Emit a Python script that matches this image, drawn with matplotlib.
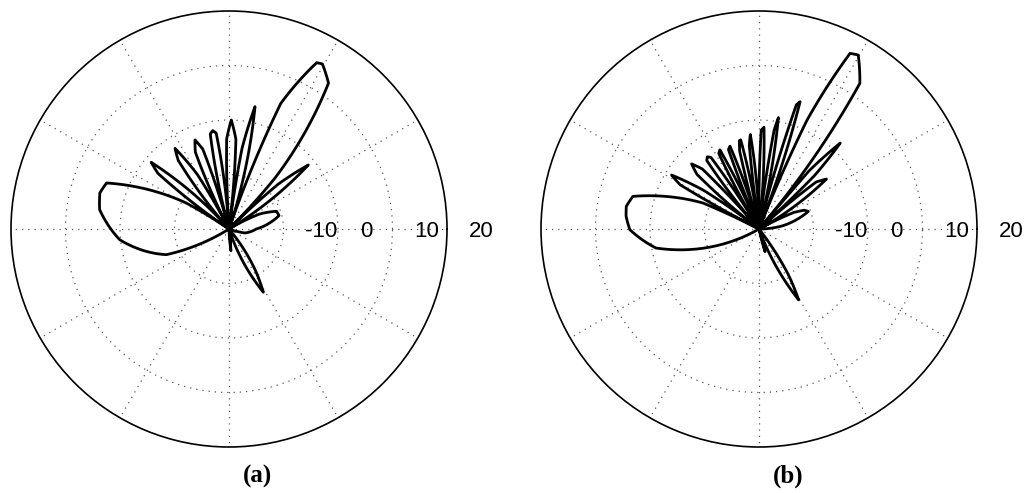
import numpy as np
import matplotlib
matplotlib.use("Agg")
import matplotlib.pyplot as plt

# pattern (a): angle in degrees, gain in dB (centre of the plot is -20 dB)
theta_a = [-90, -88, -85, -82, -72,
           -67.4, -65.9, -64.57, -63.63, -62.62, -61.5, -60.38, -59.37, -58.43, -57.1, -55.6, -50,
           -20, -14, 0, 5, 9.5, 15, 20.5, 24, 26, 28.5, 31,
           33.76, 35.44, 36.34, 37.16, 38.0, 38.9, 39.8, 40.64, 41.46, 42.36, 44.04, 45,
           47, 48, 49, 50, 52.4, 55.7, 58.7, 60.5, 62.2, 64.9, 66.8, 67.6, 68.1, 68.5, 68.8, 71,
           73.81, 75.18, 75.92, 76.58, 77.26, 78.0, 78.74, 79.42, 80.08, 80.82, 82.19, 82.6,
           84.0, 84.6, 85.6, 86.6, 87.7, 88.8, 89.9, 90.9, 91.5, 91.7, 92.0, 93.8,
           94.15, 95.86, 96.79, 97.62, 98.48, 99.4, 100.32, 101.18, 102.01, 102.94, 104.65, 105,
           105.41, 107.2, 108.17, 109.04, 109.93, 110.9, 111.87, 112.76, 113.63, 114.6, 116.39, 117.3,
           118.4, 120.16, 121.12, 121.97, 122.85, 123.8, 124.75, 125.63, 126.48, 127.44, 129.2, 131.5,
           134.3, 135.96, 136.86, 137.67, 138.5, 139.4, 140.3, 141.13, 141.94, 142.84, 144.5, 146,
           148.7, 152.7, 156.4, 159.4, 164.4, 171.5, 178.7, 185.6, 196.2, 202.3, 205.8, 209.4, 212, 270]
gain_a = [-20, -20, -16.0, -20, -20,
          -15.38, -11.42, -8.38, -7.2, -6.87, -6.8, -6.87, -7.2, -8.38, -11.42, -15.38, -20,
          -20, -17.0, -15.0, -13.1, -11.5, -10.5, -10.7, -11.8, -13.7, -16.4, -20,
          -13.45, -7.85, -3.54, -1.86, -1.39, -1.3, -1.39, -1.86, -3.54, -7.85, -13.45, -20,
          -12, -7.2, -1.4, 3.9, 8.3, 12.4, 14.5, 14.8, 14.5, 12.2, 9.0, 4.9, 0.2, -4.4, -9.6, -20,
          -11.97, -5.08, 0.2, 2.26, 2.84, 2.95, 2.84, 2.26, 0.2, -5.08, -11.97, -20,
          -13.0, -7.9, -3.5, -1.2, -0.2, 0.0, -0.3, -1.3, -3.5, -8.0, -13.0, -20,
          -13.6, -8.1, -3.9, -2.25, -1.79, -1.7, -1.79, -2.25, -3.9, -8.1, -13.6, -20,
          -13.88, -8.63, -4.6, -3.03, -2.59, -2.5, -2.59, -3.03, -4.6, -8.63, -13.88, -20,
          -13.77, -8.43, -4.34, -2.73, -2.29, -2.2, -2.29, -2.73, -4.34, -8.43, -13.77, -20,
          -13.42, -7.78, -3.46, -1.76, -1.29, -1.2, -1.29, -1.76, -3.46, -7.78, -13.42, -20,
          -10.8, -3.6, 1.9, 4.0, 4.6, 4.0, 2.5, 0.15, -4.2, -7.6, -11.3, -16.6, -20, -20]

# pattern (b)
theta_b = [-90, -78, -75, -72, -70,
           -65.65, -64.5, -63.45, -62.7, -61.8, -60.8, -59.8, -58.9, -58.15, -57.1, -55.95, -52,
           0, 4, 7.4, 14.7, 17.5, 19.6, 22.5, 25.5, 28.5,
           31.43, 32.51, 33.55, 34.39, 35.4, 36.5, 37.6, 38.61, 39.45, 40.49, 41.57, 42,
           43.0, 43.92, 44.62, 45.2, 45.87, 46.6, 47.33, 48.0, 48.58, 49.28, 49.4, 49.6,
           50.2, 50.5, 51.3, 52.2, 55.3, 58.2, 60.3, 61.5, 62.6, 65.3, 66.2, 66.6, 68.5,
           69.28, 69.93, 70.49, 70.95, 71.5, 72.1, 72.7, 73.25, 73.71, 74.27, 74.92, 75.8,
           76.09, 76.84, 77.51, 78.05, 78.69, 79.4, 80.11, 80.75, 81.29, 81.96, 82.71, 83.3,
           83.9, 84.34, 85.09, 85.69, 86.41, 87.2, 87.99, 88.71, 89.31, 90.06, 90.5, 90.8,
           91.2, 91.35, 92.15, 92.79, 93.55, 94.4, 95.25, 96.01, 96.65, 97.45, 97.6, 98.0,
           98.3, 98.45, 99.24, 99.91, 100.71, 101.6, 102.49, 103.29, 103.96, 104.75, 104.9, 105.4,
           106.0, 106.1, 106.86, 107.55, 108.39, 109.3, 110.21, 111.05, 111.74, 112.5, 112.6, 112.8,
           112.9, 113.0, 113.86, 114.56, 115.39, 116.3, 117.21, 118.04, 118.74, 119.6, 119.9, 121.0,
           121.36, 122.33, 123.18, 123.87, 124.69, 125.6, 126.51, 127.33, 128.02, 128.87, 129.84, 130.8,
           131.46, 132.42, 133.36, 134.11, 135.02, 136.0, 136.98, 137.89, 138.64, 139.58, 140.54, 142.2,
           144.15, 145.04, 145.89, 146.57, 147.4, 148.3, 149.2, 150.03, 150.71, 151.56, 152.45, 153.0,
           154.0, 155.1, 157.6, 162.6, 165.5, 170.3, 174.5, 180.3, 185.1, 190.5, 195.2, 196.5, 204.5, 210, 270]
gain_b = [-20, -20, -15.7, -20, -20,
          -14.79, -10.32, -6.89, -5.55, -5.17, -5.1, -5.17, -5.55, -6.89, -10.32, -14.79, -20,
          -20, -16.6, -15.8, -13.3, -11.3, -10.4, -11.0, -13.0, -20,
          -14.61, -9.99, -6.45, -5.06, -4.68, -4.6, -4.68, -5.06, -6.45, -9.99, -14.61, -20,
          -12.4, -5.9, -0.9, 1.05, 1.59, 1.7, 1.59, 1.05, -0.9, -5.9, -12.4, -20,
          -13, -2.6, 3.0, 6.1, 12.5, 15.8, 16.75, 16.7, 16.3, 11.4, 1.8, -7.5, -20,
          -11.41, -4.04, 1.6, 3.81, 4.43, 4.55, 4.43, 3.81, 1.6, -4.04, -11.41, -20,
          -12.7, -6.45, -1.65, 0.22, 0.75, 0.85, 0.75, 0.22, -1.65, -6.45, -12.7, -20,
          -13.45, -7.85, -3.54, -1.86, -1.39, -1.3, -1.39, -1.86, -3.54, -7.85, -13.45, -20,
          -13.88, -8.63, -4.6, -3.03, -2.59, -2.5, -2.59, -3.03, -4.6, -8.63, -13.88, -20,
          -14.15, -9.15, -5.3, -3.8, -3.38, -3.3, -3.38, -3.8, -5.3, -9.15, -14.15, -20,
          -14.36, -9.54, -5.83, -4.38, -3.98, -3.9, -3.98, -4.38, -5.83, -9.54, -14.36, -20,
          -14.33, -9.47, -5.74, -4.29, -3.88, -3.8, -3.88, -4.29, -5.74, -9.47, -14.33, -20,
          -14.3, -9.4, -5.66, -4.19, -3.78, -3.7, -3.78, -4.19, -5.66, -9.4, -14.3, -20,
          -13.98, -8.82, -4.86, -3.32, -2.89, -2.8, -2.89, -3.32, -4.86, -8.82, -13.98, -20,
          -13.4, -7.75, -3.41, -1.72, -1.24, -1.15, -1.24, -1.72, -3.41, -7.75, -13.4, -20,
          -14.0, -8.7, -4.25, 1.0, 3.9, 4.7, 4.5, 3.7, 2.0, -0.8, -5.5, -10.6, -16.8, -20, -20]

ring_values = [-10, 0, 10, 20]
ring_labels = ["-10", "0", "10", "20"]
panel_labels = ["(a)", "(b)"]

fig = plt.figure(figsize=(10.31, 4.93), dpi=100)

positions = [[11 / 1031, 46 / 493, 436 / 1031, 436 / 493],
             [541 / 1031, 46 / 493, 436 / 1031, 436 / 493]]
label_x = [257 / 1031, 788 / 1031]

for pos, th, g, lab, lx in zip(positions, [theta_a, theta_b], [gain_a, gain_b],
                               panel_labels, label_x):
    ax = fig.add_axes(pos, projection="polar")
    ln, = ax.plot(np.deg2rad(th), g, color="black", lw=2.0)
    ln.get_path()._interpolation_steps = 16
    ax.set_ylim(-20, 20)
    ax.set_yticks([-10, 0, 10])
    ax.set_xticks(np.deg2rad(np.arange(0, 360, 30)))
    ax.set_xticklabels([])
    ax.set_yticklabels([])
    ax.grid(True, color="0.35", linestyle=(0, (1, 4)), linewidth=0.9)
    ax.spines["polar"].set_linewidth(1.2)
    for v, t in zip(ring_values, ring_labels):
        ax.annotate(t, xy=(0, v), xytext=(22, -8), textcoords="offset pixels",
                    ha="left", va="baseline", fontsize=16, family="Liberation Sans",
                    annotation_clip=False)
    fig.text(lx, 1 - 476 / 493, lab, ha="center", va="center", fontsize=18,
             fontweight="bold", family="Liberation Serif")

fig.savefig("out.png", dpi=100)
